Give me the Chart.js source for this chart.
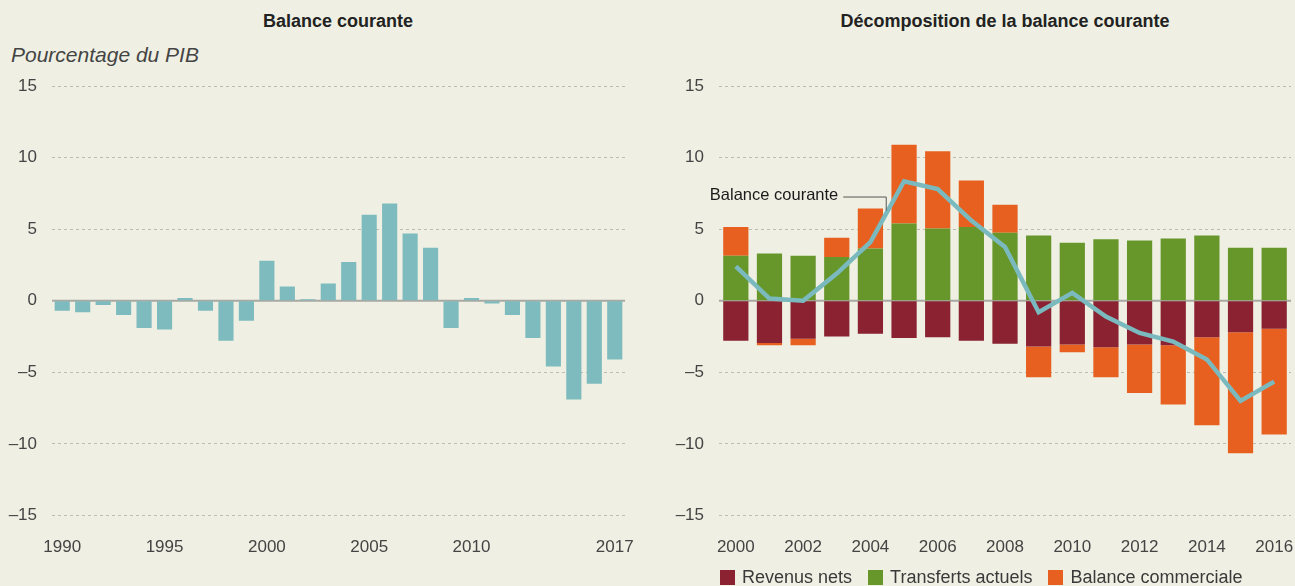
<!DOCTYPE html>
<html>
<head>
<meta charset="utf-8">
<script src="https://cdn.jsdelivr.net/npm/chart.js@4.4.0/dist/chart.umd.min.js"></script>
<style>
  body { margin: 0; background: #eff0e3; width: 1295px; height: 586px; overflow: hidden; position: relative; font-family: 'Liberation Sans', Arial, sans-serif; }
  .title { position: absolute; top: 11px; font-weight: bold; font-size: 18px; color: #222; white-space: nowrap; transform: translateX(-50%); }
  .unit { position: absolute; left: 11px; top: 43px; font-style: italic; font-size: 21px; color: #444; white-space: nowrap; }
  .box { position: absolute; top: 0; }
  #legend { position: absolute; left: 720px; top: 566px; display: flex; align-items: center; white-space: nowrap; font-family: 'Liberation Sans', Arial, sans-serif; font-size: 18px; line-height: 22px; color: #3a3a3a; }
  #legend span.sw { display: inline-block; width: 15px; height: 15px; margin-right: 7px; }
  #legend span.lb { margin-right: 16px; }
</style>
</head>
<body>
<div class="title" style="left:338px">Balance courante</div>
<div class="unit">Pourcentage du PIB</div>
<div class="title" style="left:1005px">Décomposition de la balance courante</div>
<div class="box" style="left:0px"><canvas id="left" width="640" height="586"></canvas></div>
<div class="box" style="left:655px"><canvas id="right" width="640" height="586"></canvas></div>
<div id="legend"></div>
<script>
// Balance courante, 1990-2017 (% du PIB)
const years1 = [1990, 1991, 1992, 1993, 1994, 1995, 1996, 1997, 1998, 1999, 2000, 2001, 2002, 2003,
  2004, 2005, 2006, 2007, 2008, 2009, 2010, 2011, 2012, 2013, 2014, 2015, 2016, 2017];
const balance1 = [-0.7, -0.8, -0.3, -1.0, -1.9, -2.0, 0.2, -0.7, -2.8, -1.4, 2.8, 1.0, 0.1, 1.2,
  2.7, 6.0, 6.8, 4.7, 3.7, -1.9, 0.2, -0.2, -1.0, -2.6, -4.6, -6.9, -5.8, -4.1];
const years1Shown = [1990, 1995, 2000, 2005, 2010, 2017];

// Décomposition, 2000-2016
const years2 = [2000, 2001, 2002, 2003, 2004, 2005, 2006, 2007, 2008, 2009, 2010, 2011, 2012, 2013, 2014, 2015, 2016];
const revenus = [-2.8, -2.95, -2.65, -2.5, -2.3, -2.6, -2.55, -2.8, -3.0, -3.2, -3.05, -3.25, -3.05, -3.1, -2.55, -2.2, -1.95];
const transferts = [3.15, 3.3, 3.15, 3.05, 3.65, 5.4, 5.05, 5.15, 4.75, 4.55, 4.05, 4.3, 4.2, 4.35, 4.55, 3.7, 3.7];
const commerciale = [2.0, -0.15, -0.45, 1.35, 2.8, 5.5, 5.4, 3.25, 1.95, -2.15, -0.55, -2.1, -3.4, -4.15, -6.15, -8.45, -7.4];
const courante = [2.4, 0.15, 0.0, 1.9, 4.1, 8.35, 7.8, 5.6, 3.75, -0.8, 0.55, -1.1, -2.25, -2.85, -4.1, -7.0, -5.65];

const yTicks = [-15, -10, -5, 0, 5, 10, 15];

const tickFont = { family: "'Liberation Sans', Arial, sans-serif", size: 17 };
const tickColor = '#444';
const gridColor = '#bcbcb4';

// solid zero line under the bars
const zeroLine = {
  id: 'zeroLine',
  beforeDatasetsDraw(chart) {
    const { ctx, chartArea, scales } = chart;
    const y0 = scales.y.getPixelForValue(0);
    ctx.save();
    ctx.strokeStyle = '#a9a9a3';
    ctx.lineWidth = 2;
    ctx.beginPath();
    ctx.moveTo(chartArea.left, y0);
    ctx.lineTo(chartArea.right, y0);
    ctx.stroke();
    ctx.restore();
  }
};

function yScale(width) {
  return {
    min: -15, max: 15,
    afterBuildTicks: s => { s.ticks = yTicks.map(v => ({ value: v })); },
    afterFit: s => { s.width = width; },
    ticks: {
      font: tickFont, color: tickColor, padding: 15,
      callback: v => (v < 0 ? '\u2013' + Math.abs(v) : String(v))
    },
    grid: {
      color: ctx => (ctx.tick.value === 0 ? 'rgba(0,0,0,0)' : gridColor),
      lineWidth: 1, drawTicks: false, tickLength: 0
    },
    border: { display: false, dash: [3, 3] }
  };
}

function xScale(cb) {
  return {
    afterFit: s => { s.height = 70.5; s.paddingLeft = 0; s.paddingRight = 0; },
    grid: { display: false, drawTicks: false, tickLength: 0 },
    border: { display: false },
    ticks: { font: tickFont, color: tickColor, padding: 22, autoSkip: false, maxRotation: 0, callback: cb }
  };
}

new Chart(document.getElementById('left'), {
  type: 'bar',
  data: {
    labels: years1,
    datasets: [{ data: balance1, backgroundColor: '#7ebbbe', barPercentage: 0.74, categoryPercentage: 1 }]
  },
  options: {
    responsive: false, animation: false,
    layout: { padding: { top: 86, right: 15, left: 0, bottom: 0 } },
    plugins: { legend: { display: false }, tooltip: { enabled: false } },
    scales: {
      x: xScale(function (v, i) { return years1Shown.includes(years1[i]) ? String(years1[i]) : ''; }),
      y: yScale(52)
    }
  },
  plugins: [zeroLine]
});

// "Balance courante" callout with leader line
const callout = {
  id: 'callout',
  afterDatasetsDraw(chart) {
    const { ctx, scales } = chart;
    const x0 = scales.x.getPixelForValue(0) - 26;
    const yT = scales.y.getPixelForValue(7.35);
    const xEnd = scales.x.getPixelForValue(4.47);
    const yEnd = scales.y.getPixelForValue(6.3);
    ctx.save();
    ctx.font = "16.5px 'Liberation Sans', Arial, sans-serif";
    ctx.fillStyle = '#1a1a1a';
    ctx.textBaseline = 'middle';
    ctx.fillText('Balance courante', x0, yT);
    const w = ctx.measureText('Balance courante').width;
    ctx.strokeStyle = '#555';
    ctx.lineWidth = 1;
    ctx.beginPath();
    ctx.moveTo(x0 + w + 5, yT + 1.5);
    ctx.lineTo(xEnd, yT + 1.5);
    ctx.lineTo(xEnd, yEnd);
    ctx.stroke();
    ctx.restore();
  }
};

const stackedSets = [
  { label: 'Revenus nets', data: revenus, backgroundColor: '#8a2232' },
  { label: 'Transferts actuels', data: transferts, backgroundColor: '#67962b' },
  { label: 'Balance commerciale', data: commerciale, backgroundColor: '#e86020' }
];

new Chart(document.getElementById('right'), {
  type: 'bar',
  data: {
    labels: years2,
    datasets: [
      {
        type: 'line', label: 'Balance courante', data: courante, stack: 'line', order: 0,
        borderColor: '#7ab9bd', borderWidth: 4.5, pointRadius: 0, tension: 0, fill: false
      },
      ...stackedSets.map(d => Object.assign({ stack: 'bars', order: 1, barPercentage: 0.75, categoryPercentage: 1 }, d))
    ]
  },
  options: {
    responsive: false, animation: false,
    layout: { padding: { top: 86, right: 4, left: 0, bottom: 0 } },
    plugins: { legend: { display: false }, tooltip: { enabled: false } },
    scales: {
      x: Object.assign(xScale(function (v, i) { return i % 2 === 0 ? String(years2[i]) : ''; }), { stacked: true }),
      y: Object.assign(yScale(64), { stacked: true })
    }
  },
  plugins: [zeroLine, callout]
});

// legend
const legendEl = document.getElementById('legend');
stackedSets.forEach(d => {
  const sw = document.createElement('span');
  sw.className = 'sw';
  sw.style.background = d.backgroundColor;
  const lb = document.createElement('span');
  lb.className = 'lb';
  lb.textContent = d.label;
  legendEl.appendChild(sw);
  legendEl.appendChild(lb);
});
</script>
</body>
</html>
